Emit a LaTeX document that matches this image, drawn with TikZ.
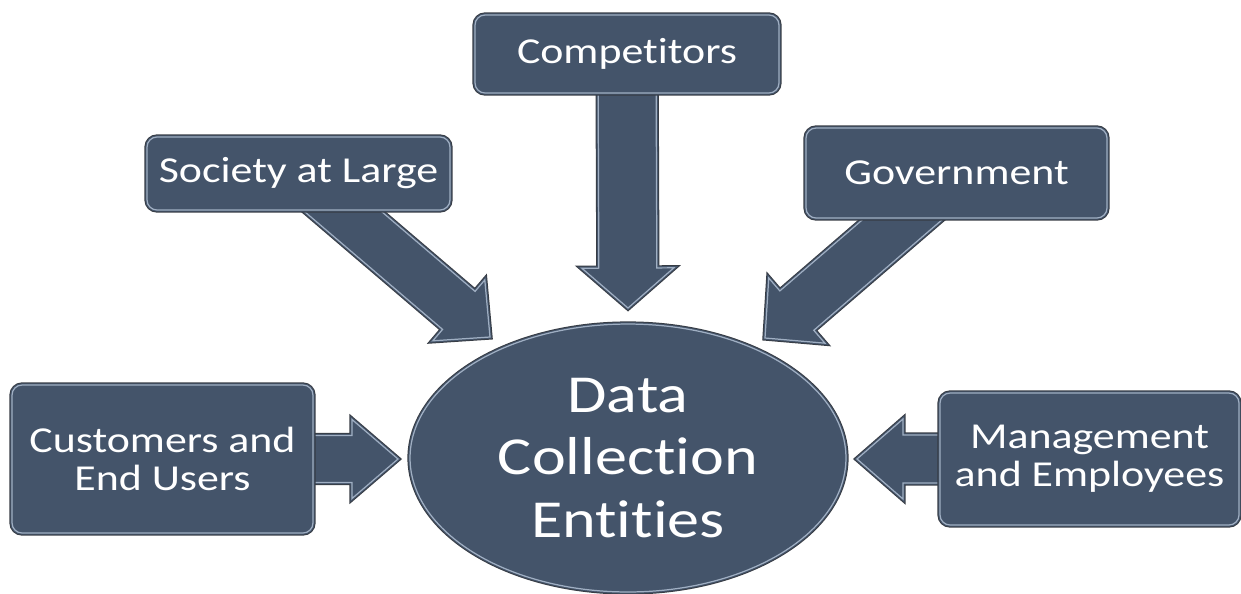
\documentclass[tikz,border=0pt]{standalone}
\usepackage{fontspec}
\setmainfont{Carlito}[FakeStretch=1.2, Ligatures=NoCommon]
\usetikzlibrary{shapes.geometric,calc,backgrounds}

\definecolor{slate}{RGB}{68,84,106}
\definecolor{edge}{RGB}{55,60,68}
\definecolor{shine}{RGB}{160,175,195}

\tikzset{
  bevel/.style={preaction={draw=edge, line width=3pt}, draw=slate, double=shine,
    double distance=0.7pt, line width=0.6pt, fill=slate},
  entity/.style={bevel, rectangle, rounded corners=0.2cm, text=white, align=center,
    font=\fontsize{20.8pt}{21.6pt}\selectfont, inner sep=0pt},
  hub/.style={bevel, ellipse, text=white, align=center,
    font=\fontsize{30.4pt}{35.8pt}\selectfont, minimum width=8.72cm,
    minimum height=5.36cm, inner sep=0pt},
  arrowbody/.style={bevel, line join=miter}
}

% block arrow: from, tip, half shaft, half head, head length
\newcommand{\blockarrow}[5]{%
  \coordinate (ba-h) at ($(#2)!#5!(#1)$);
  \draw[arrowbody] ($(#1)!#3!90:(#2)$) -- ($(ba-h)!#3!90:(#2)$)
    -- ($(ba-h)!#4!90:(#2)$) -- (#2) -- ($(ba-h)!#4!-90:(#2)$)
    -- ($(ba-h)!#3!-90:(#2)$) -- ($(#1)!#3!-90:(#2)$) -- cycle;
}

\begin{document}
\begin{tikzpicture}[x=0.02cm, y=-0.02cm]
  \useasboundingbox (0,0) rectangle (1241,593);

  % entities around the hub
  \node[hub] (dce) at (628,458) {Data\\Collection\\Entities};
  \node[entity, minimum width=6.08cm, minimum height=1.56cm] (comp) at (627,54) {Competitors};
  \node[entity, minimum width=6.06cm, minimum height=1.46cm] (soc) at (298.5,173.5) {Society at Large};
  \node[entity, minimum width=6.02cm, minimum height=1.8cm] (gov) at (956.5,173) {Government};
  \node[entity, minimum width=6.02cm, minimum height=2.96cm] (cust) at (162.5,459) {Customers and\\End Users};
  \node[entity, minimum width=5.98cm, minimum height=2.64cm] (mgmt) at (1089.5,459) {Management\\and Employees};

  \coordinate (comp-tip) at (628,308);
  \coordinate (soc-tip) at (490,337);
  \coordinate (gov-tip) at (765,338);
  \coordinate (cust-tip) at (398,459);
  \coordinate (mgmt-tip) at (857,459);

  % block arrows behind the boxes
  \begin{scope}[on background layer]
    \blockarrow{comp.center}{comp-tip}{0.58cm}{0.92cm}{0.8cm}
    \blockarrow{soc.center}{soc-tip}{0.5cm}{0.8cm}{0.82cm}
    \blockarrow{gov.center}{gov-tip}{0.52cm}{0.86cm}{0.84cm}
    \blockarrow{cust.center}{cust-tip}{0.47cm}{0.79cm}{0.92cm}
    \blockarrow{mgmt.center}{mgmt-tip}{0.48cm}{0.8cm}{0.92cm}
  \end{scope}
\end{tikzpicture}
\end{document}
